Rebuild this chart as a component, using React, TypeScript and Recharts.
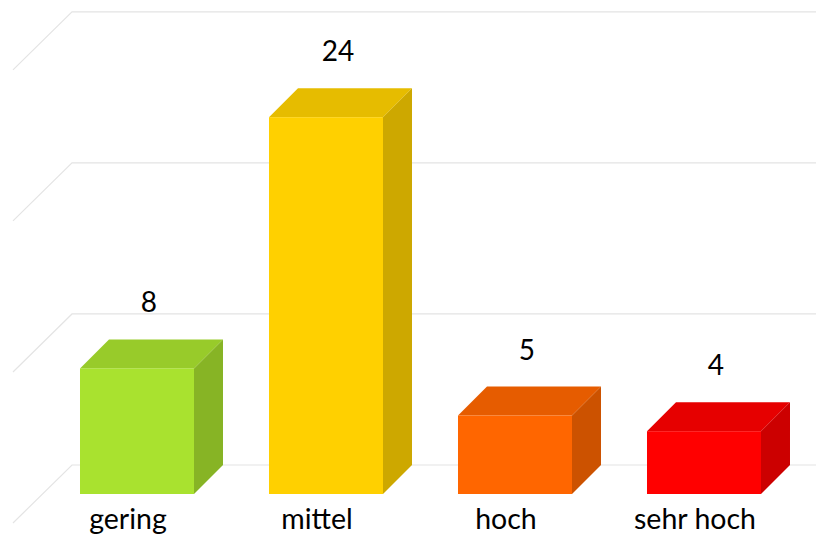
import React from "react";
import { BarChart, Bar, XAxis, YAxis, Cell, LabelList, ReferenceLine } from "recharts";

const categories = ["gering", "mittel", "hoch", "sehr hoch"];
const values = [8, 24, 5, 4];
const gridValues = [0, 10, 20, 30];
const frontColors = ["#A9E22F", "#FFD000", "#FF6600", "#FF0000"];
const topColors = ["#98CB2A", "#E6BC00", "#E65C00", "#E60000"];
const sideColors = ["#87B425", "#CDA800", "#CC5200", "#CC0000"];

const data = categories.map((name, i) => ({ name, value: values[i] }));

const W = 816;
const H = 536;
const M = { top: 23, right: 17.5, bottom: 0, left: 42.5 };
const AXIS_H = 42;
const DEPTH = 29;
const WALL_SCALE = 0.962;
const PLOT_BOTTOM = H - M.bottom - AXIS_H;
const FONT = "Lato, 'Open Sans', sans-serif";

const BoxShape = (props: any) => {
  const { x, y, width, height, index } = props;
  const d = DEPTH;
  const top = `${x},${y} ${x + d},${y - d} ${x + width + d},${y - d} ${x + width},${y}`;
  const side = `${x + width},${y} ${x + width + d},${y - d} ${x + width + d},${y + height - d} ${x + width},${y + height}`;
  return (
    <g>
      <polygon points={top} fill={topColors[index]} />
      <polygon points={side} fill={sideColors[index]} />
      <rect x={x} y={y} width={width} height={height} fill={frontColors[index]} />
    </g>
  );
};

const GridShape = (props: any) => {
  const { x1, y1, x2 } = props;
  const yb = PLOT_BOTTOM - DEPTH - (PLOT_BOTTOM - y1) * WALL_SCALE;
  const pts = `${x1 - DEPTH - 0.5},${yb + 2 * DEPTH} ${x1 + DEPTH + 0.5},${yb} ${x2 + 2 * DEPTH},${yb}`;
  return <polyline points={pts} fill="none" stroke="#E4E4E4" strokeWidth={1.2} />;
};

const Tick = (props: any) => {
  const { x, y, payload } = props;
  return (
    <text x={x - 9} y={y} dy={35} textAnchor="middle" fontFamily={FONT} fontSize={28.5} fill="#000">
      {payload.value}
    </text>
  );
};

const ValueLabel = (props: any) => {
  const { x, y, width, value } = props;
  return (
    <text x={x + width / 2 + 12} y={y - 56} textAnchor="middle" fontFamily={FONT} fontSize={28} fill="#000">
      {value}
    </text>
  );
};

export default function App() {
  return (
    <div style={{ position: "absolute", left: 0, top: 0, background: "#fff" }}>
      <BarChart width={W} height={H} data={data} margin={M} barCategoryGap="19.84%">
        <YAxis hide domain={[0, 30]} ticks={gridValues} />
        <XAxis
          dataKey="name"
          axisLine={false}
          tickLine={false}
          tickSize={0}
          tickMargin={0}
          height={AXIS_H}
          interval={0}
          tick={<Tick />}
        />
        {gridValues.map((v) => (
          <ReferenceLine key={v} y={v} shape={<GridShape />} ifOverflow="visible" zIndex={0} />
        ))}
        <Bar dataKey="value" shape={<BoxShape />} isAnimationActive={false}>
          {data.map((d, i) => (
            <Cell key={d.name} fill={frontColors[i]} />
          ))}
          <LabelList dataKey="value" content={<ValueLabel />} />
        </Bar>
      </BarChart>
    </div>
  );
}
